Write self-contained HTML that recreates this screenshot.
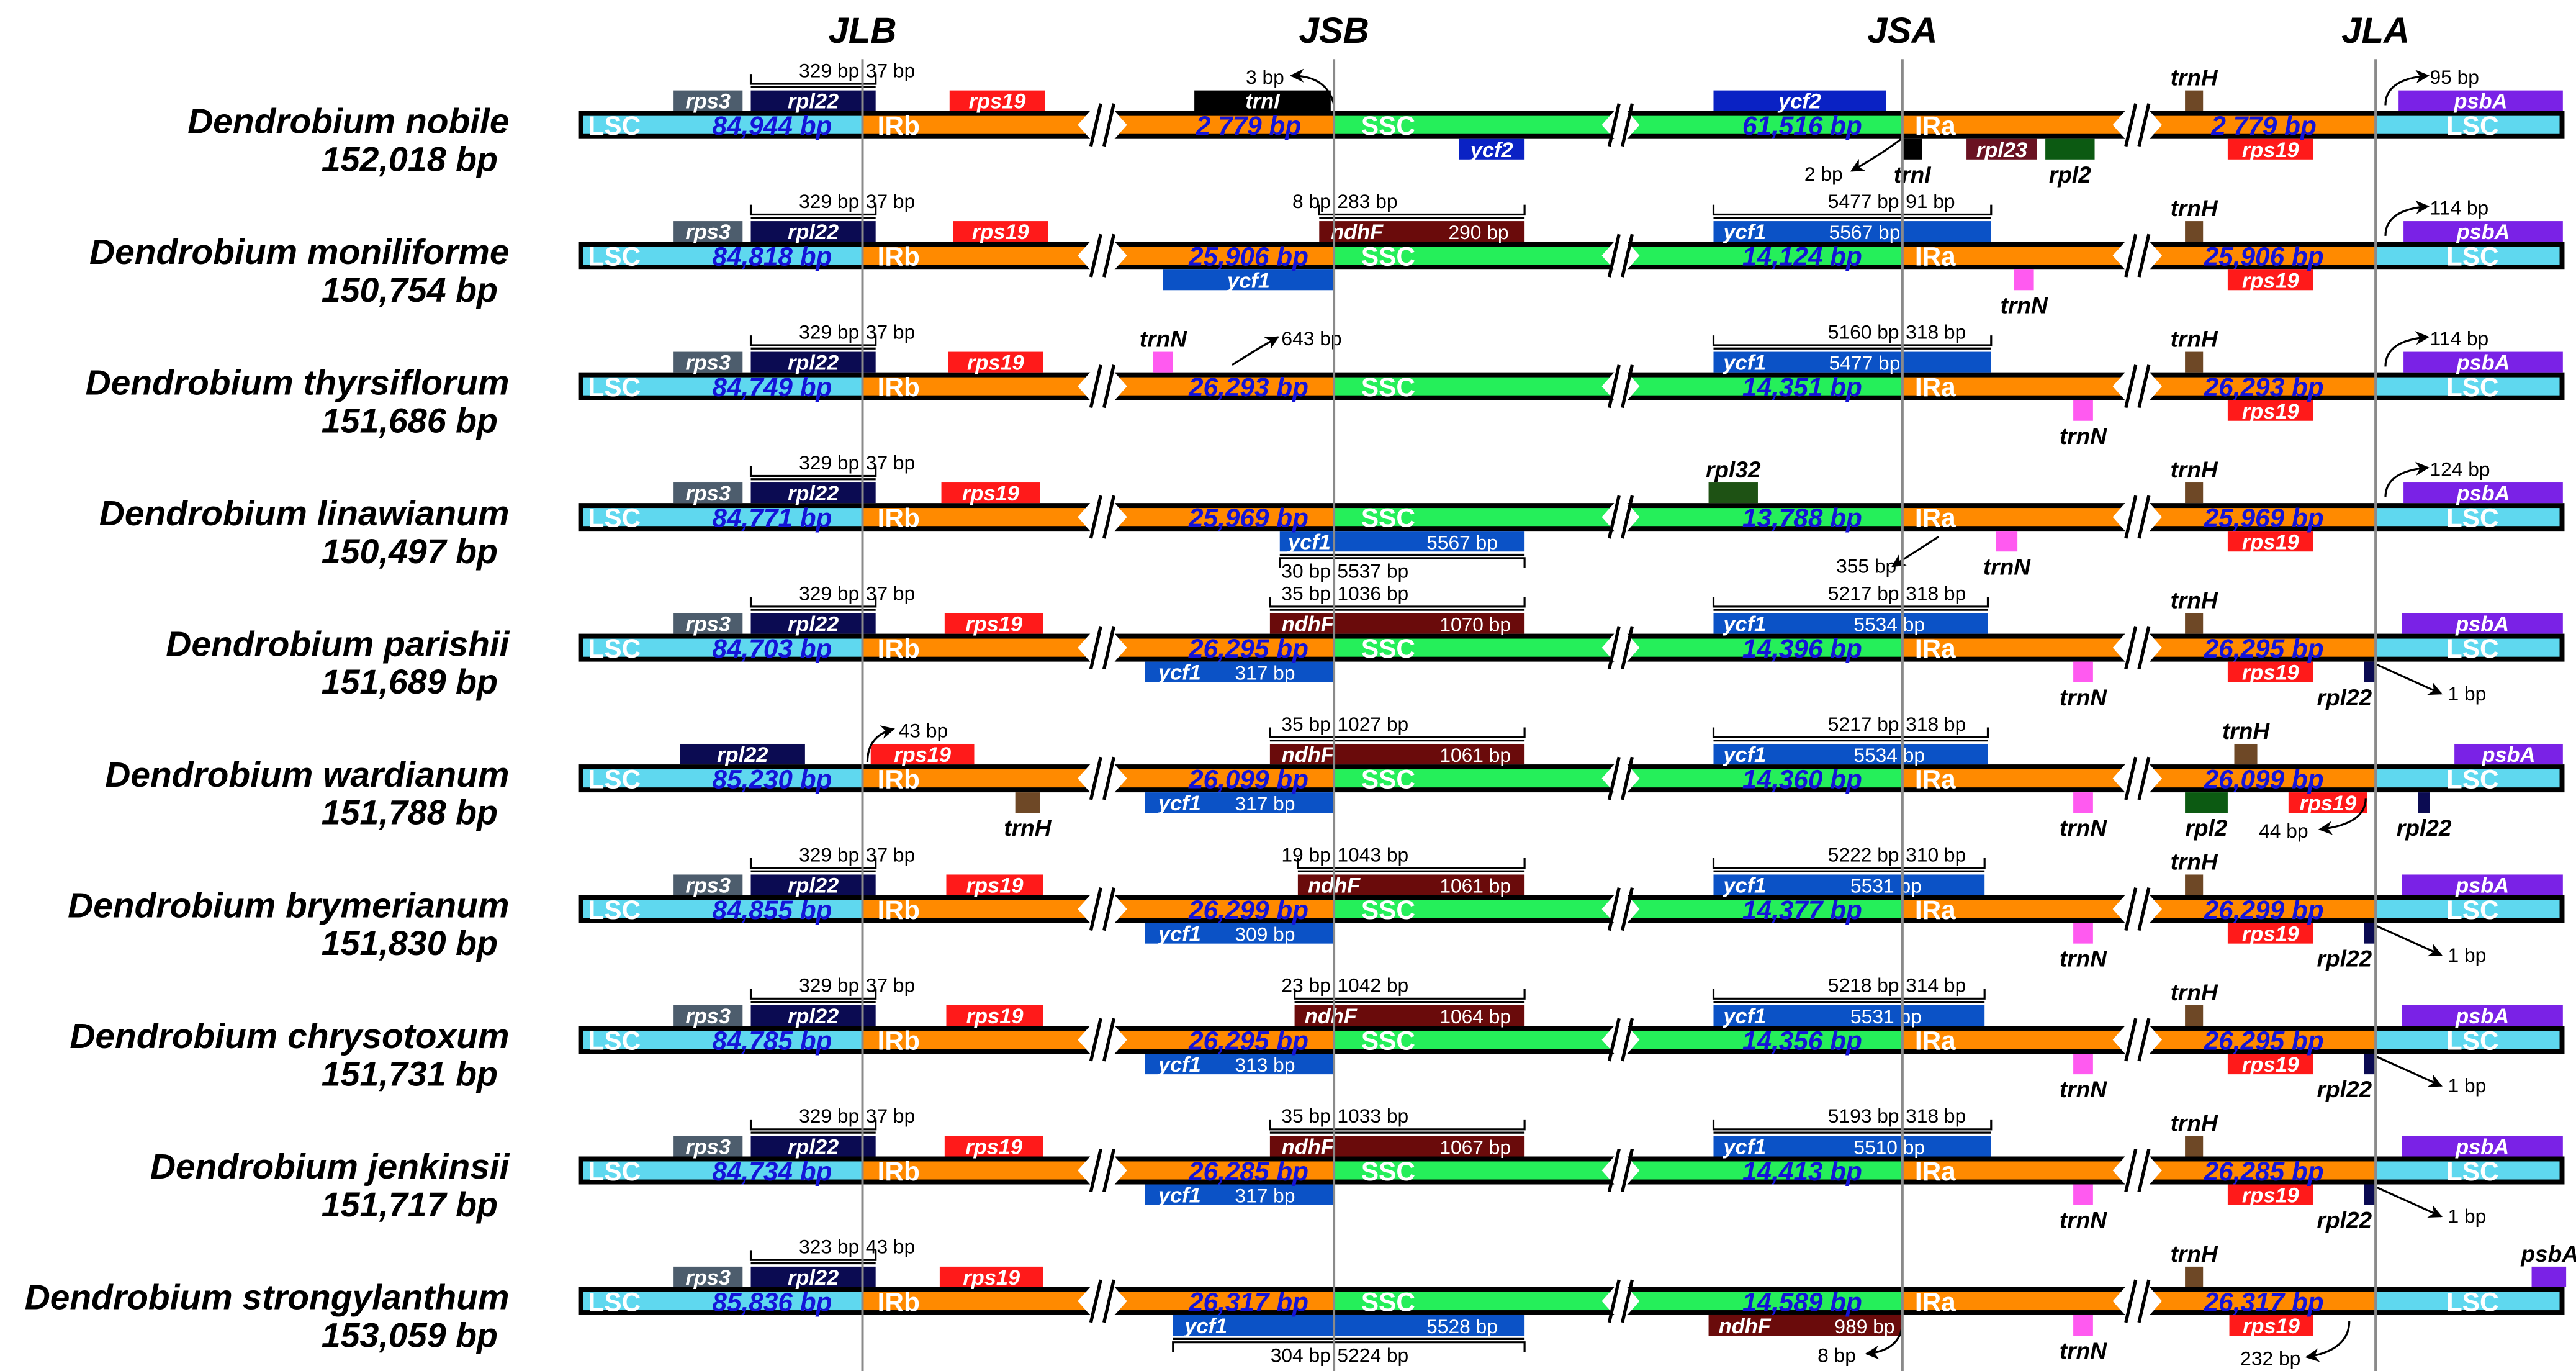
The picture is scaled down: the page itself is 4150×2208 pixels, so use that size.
<!DOCTYPE html>
<html><head><meta charset="utf-8"><style>
html,body{margin:0;padding:0;background:#fff;}
svg{display:block;}
text{font-family:"Liberation Sans",Arial,sans-serif;}
</style></head><body>
<svg id="fig" xmlns="http://www.w3.org/2000/svg" width="4150" height="2208" viewBox="0 0 1568 834" preserveAspectRatio="none">
<defs>
<marker id="ah" viewBox="0 0 10 10" refX="9" refY="5" markerWidth="7" markerHeight="7" orient="auto-start-reverse"><path d="M0,0 L10,5 L0,10 L3,5 z" fill="#000"/></marker>
</defs>
<g id="layer"></g>
</svg>
<script>
const NS="http://www.w3.org/2000/svg";
const species=["Dendrobium nobile","Dendrobium moniliforme","Dendrobium thyrsiflorum","Dendrobium linawianum","Dendrobium parishii","Dendrobium wardianum","Dendrobium brymerianum","Dendrobium chrysotoxum","Dendrobium jenkinsii","Dendrobium strongylanthum"];
const genomeSizes=["152,018 bp","150,754 bp","151,686 bp","150,497 bp","151,689 bp","151,788 bp","151,830 bp","151,731 bp","151,717 bp","153,059 bp"];
const lscLen=["84,944 bp","84,818 bp","84,749 bp","84,771 bp","84,703 bp","85,230 bp","84,855 bp","84,785 bp","84,734 bp","85,836 bp"];
const irLen=["2 779 bp","25,906 bp","26,293 bp","25,969 bp","26,295 bp","26,099 bp","26,299 bp","26,295 bp","26,285 bp","26,317 bp"];
const sscLen=["61,516 bp","14,124 bp","14,351 bp","13,788 bp","14,396 bp","14,360 bp","14,377 bp","14,356 bp","14,413 bp","14,589 bp"];
const junctions=["JLB","JSB","JSA","JLA"];

const Y0=76, DY=79.5;
const JX={JLB:525,JSB:812,JSA:1158,JLA:1446};
const C={rps3:"#4d5d6d",rpl22:"#0b0b52",rps19:"#ff1a1a",trnI:"#000",ycf2:"#0a22c4",ycf1:"#0b52c6",ndhF:"#6a0b0b",rpl23:"#6a1222",rpl2:"#0c5a12",trnH:"#6e4826",psbA:"#7a22e6",trnN:"#ff5af0",rpl32:"#1e5214"};
const L=document.getElementById('layer');
function mk(tag,attrs,parent){const e=document.createElementNS(NS,tag);for(const k in attrs)e.setAttribute(k,attrs[k]);(parent||L).appendChild(e);return e;}
function txt(s,x,y,size,fill,anchor,style,parent){const t=mk('text',{x:x,y:y,'font-size':size,fill:fill,'text-anchor':anchor||'middle','font-weight':style.indexOf('b')>=0?'bold':'normal','font-style':style.indexOf('i')>=0?'italic':'normal'},parent);t.textContent=s;return t;}

function std(v){return [
 {g:'rps3',a:410,b:452,up:1,t:'rps3'},
 {g:'rpl22',a:457,b:533,up:1,t:'rpl22'},
 {g:'rps19',a:v[0],b:v[1],up:1,t:'rps19'}];}
function tailH(){return [{g:'trnH',a:1330,b:1341,up:1,lab:'trnH'},{g:'rps19',a:1356,b:1408,up:0,t:'rps19'}];}
const rows=[
 {genes:[...std([578,636]),{g:'trnI',a:727,b:810,up:1,t:'trnI'},{g:'ycf2',a:888,b:928,up:0,t:'ycf2'},{g:'ycf2',a:1043,b:1148,up:1,t:'ycf2'},{g:'trnI',a:1158,b:1170,up:0,lab:'trnI'},{g:'rpl23',a:1197,b:1240,up:0,t:'rpl23'},{g:'rpl2',a:1245,b:1275,up:0,lab:'rpl2'},...tailH(),{g:'psbA',a:1460,b:1560,up:1,t:'psbA'}],
  br:[{a:457,m:525,b:533,up:1,l1:'329 bp',l2:'37 bp'}],
  ar:[{p:[812,-12,808,-30,786,-30],l:'3 bp',lx:770,ly:-25,an:'middle'},{p:[1158,8,1145,18,1127,28],l:'2 bp',lx:1110,ly:34,an:'middle'},{p:[1452,-12,1452,-28,1478,-30],l:'95 bp',lx:1479,ly:-25,an:'start'}]},
 {genes:[...std([580,638]),{g:'ndhF',a:803,b:928,up:1,t:'ndhF',tx:826,t2:'290 bp',t2x:900},{g:'ycf1',a:708,b:812,up:0,t:'ycf1'},{g:'ycf1',a:1043,b:1212,up:1,t:'ycf1',tx:1062,t2:'5567 bp',t2x:1135},{g:'trnN',a:1226,b:1238,up:0,lab:'trnN'},...tailH(),{g:'psbA',a:1463,b:1560,up:1,t:'psbA'}],
  br:[{a:457,m:525,b:533,up:1,l1:'329 bp',l2:'37 bp'},{a:803,m:812,b:928,up:1,l1:'8 bp',l2:'283 bp'},{a:1043,m:1158,b:1212,up:1,l1:'5477 bp',l2:'91 bp'}],
  ar:[{p:[1452,-12,1452,-28,1478,-30],l:'114 bp',lx:1479,ly:-25,an:'start'}]},
 {genes:[...std([577,635]),{g:'trnN',a:702,b:714,up:1,lab:'trnN'},{g:'ycf1',a:1043,b:1212,up:1,t:'ycf1',tx:1062,t2:'5477 bp',t2x:1135},{g:'trnN',a:1262,b:1274,up:0,lab:'trnN'},...tailH(),{g:'psbA',a:1463,b:1560,up:1,t:'psbA'}],
  br:[{a:457,m:525,b:533,up:1,l1:'329 bp',l2:'37 bp'},{a:1043,m:1158,b:1212,up:1,l1:'5160 bp',l2:'318 bp'}],
  ar:[{p:[750,-13,764,-22,778,-30],l:'643 bp',lx:780,ly:-25,an:'start'},{p:[1452,-12,1452,-28,1478,-30],l:'114 bp',lx:1479,ly:-25,an:'start'}]},
 {genes:[...std([573,633]),{g:'ycf1',a:779,b:928,up:0,t:'ycf1',tx:797,t2:'5567 bp',t2x:890},{g:'rpl32',a:1040,b:1070,up:1,lab:'rpl32'},{g:'trnN',a:1215,b:1228,up:0,lab:'trnN'},...tailH(),{g:'psbA',a:1463,b:1560,up:1,t:'psbA'}],
  br:[{a:457,m:525,b:533,up:1,l1:'329 bp',l2:'37 bp'},{a:779,m:812,b:928,up:0,l1:'30 bp',l2:'5537 bp'}],
  ar:[{p:[1180,12,1166,21,1152,30],l:'355 bp',lx:1136,ly:34,an:'middle'},{p:[1452,-12,1452,-28,1478,-30],l:'124 bp',lx:1479,ly:-25,an:'start'}]},
 {genes:[...std([575,635]),{g:'ndhF',a:773,b:928,up:1,t:'ndhF',tx:796,t2:'1070 bp',t2x:898},{g:'ycf1',a:697,b:812,up:0,t:'ycf1',tx:718,t2:'317 bp',t2x:770},{g:'ycf1',a:1043,b:1210,up:1,t:'ycf1',tx:1062,t2:'5534 bp',t2x:1150},{g:'trnN',a:1262,b:1274,up:0,lab:'trnN'},...tailH(),{g:'rpl22',a:1439,b:1446,up:0,lab:'rpl22',lx:1427},{g:'psbA',a:1462,b:1560,up:1,t:'psbA'}],
  br:[{a:457,m:525,b:533,up:1,l1:'329 bp',l2:'37 bp'},{a:773,m:812,b:928,up:1,l1:'35 bp',l2:'1036 bp'},{a:1043,m:1158,b:1210,up:1,l1:'5217 bp',l2:'318 bp'}],
  ar:[{p:[1446,10,1466,19,1486,28],l:'1 bp',lx:1490,ly:32,an:'start'}]},
 {genes:[{g:'rpl22',a:414,b:490,up:1,t:'rpl22'},{g:'rps19',a:530,b:593,up:1,t:'rps19'},{g:'trnH',a:618,b:633,up:0,lab:'trnH'},{g:'ndhF',a:773,b:928,up:1,t:'ndhF',tx:796,t2:'1061 bp',t2x:898},{g:'ycf1',a:697,b:812,up:0,t:'ycf1',tx:718,t2:'317 bp',t2x:770},{g:'ycf1',a:1043,b:1210,up:1,t:'ycf1',tx:1062,t2:'5534 bp',t2x:1150},{g:'trnN',a:1262,b:1274,up:0,lab:'trnN'},{g:'trnH',a:1360,b:1374,up:1,lab:'trnH'},{g:'rpl2',a:1330,b:1356,up:0,lab:'rpl2'},{g:'rps19',a:1393,b:1441,up:0,t:'rps19'},{g:'rpl22',a:1472,b:1479,up:0,lab:'rpl22'},{g:'psbA',a:1494,b:1560,up:1,t:'psbA'}],
  br:[{a:773,m:812,b:928,up:1,l1:'35 bp',l2:'1027 bp'},{a:1043,m:1158,b:1210,up:1,l1:'5217 bp',l2:'318 bp'}],
  ar:[{p:[528,-10,528,-26,544,-30],l:'43 bp',lx:547,ly:-25,an:'start'},{p:[1440,12,1440,28,1412,31],l:'44 bp',lx:1390,ly:36,an:'middle'}]},
 {genes:[...std([576,635]),{g:'ndhF',a:790,b:928,up:1,t:'ndhF',tx:812,t2:'1061 bp',t2x:898},{g:'ycf1',a:697,b:812,up:0,t:'ycf1',tx:718,t2:'309 bp',t2x:770},{g:'ycf1',a:1043,b:1208,up:1,t:'ycf1',tx:1062,t2:'5531 bp',t2x:1148},{g:'trnN',a:1262,b:1274,up:0,lab:'trnN'},...tailH(),{g:'rpl22',a:1439,b:1446,up:0,lab:'rpl22',lx:1427},{g:'psbA',a:1462,b:1560,up:1,t:'psbA'}],
  br:[{a:457,m:525,b:533,up:1,l1:'329 bp',l2:'37 bp'},{a:790,m:812,b:928,up:1,l1:'19 bp',l2:'1043 bp'},{a:1043,m:1158,b:1208,up:1,l1:'5222 bp',l2:'310 bp'}],
  ar:[{p:[1446,10,1466,19,1486,28],l:'1 bp',lx:1490,ly:32,an:'start'}]},
 {genes:[...std([576,635]),{g:'ndhF',a:788,b:928,up:1,t:'ndhF',tx:810,t2:'1064 bp',t2x:898},{g:'ycf1',a:697,b:812,up:0,t:'ycf1',tx:718,t2:'313 bp',t2x:770},{g:'ycf1',a:1043,b:1208,up:1,t:'ycf1',tx:1062,t2:'5531 bp',t2x:1148},{g:'trnN',a:1262,b:1274,up:0,lab:'trnN'},...tailH(),{g:'rpl22',a:1439,b:1446,up:0,lab:'rpl22',lx:1427},{g:'psbA',a:1462,b:1560,up:1,t:'psbA'}],
  br:[{a:457,m:525,b:533,up:1,l1:'329 bp',l2:'37 bp'},{a:788,m:812,b:928,up:1,l1:'23 bp',l2:'1042 bp'},{a:1043,m:1158,b:1208,up:1,l1:'5218 bp',l2:'314 bp'}],
  ar:[{p:[1446,10,1466,19,1486,28],l:'1 bp',lx:1490,ly:32,an:'start'}]},
 {genes:[...std([575,635]),{g:'ndhF',a:773,b:928,up:1,t:'ndhF',tx:796,t2:'1067 bp',t2x:898},{g:'ycf1',a:697,b:812,up:0,t:'ycf1',tx:718,t2:'317 bp',t2x:770},{g:'ycf1',a:1043,b:1212,up:1,t:'ycf1',tx:1062,t2:'5510 bp',t2x:1150},{g:'trnN',a:1262,b:1274,up:0,lab:'trnN'},...tailH(),{g:'rpl22',a:1439,b:1446,up:0,lab:'rpl22',lx:1427},{g:'psbA',a:1462,b:1560,up:1,t:'psbA'}],
  br:[{a:457,m:525,b:533,up:1,l1:'329 bp',l2:'37 bp'},{a:773,m:812,b:928,up:1,l1:'35 bp',l2:'1033 bp'},{a:1043,m:1158,b:1212,up:1,l1:'5193 bp',l2:'318 bp'}],
  ar:[{p:[1446,10,1466,19,1486,28],l:'1 bp',lx:1490,ly:32,an:'start'}]},
 {genes:[...std([572,635]),{g:'ycf1',a:714,b:928,up:0,t:'ycf1',tx:734,t2:'5528 bp',t2x:890},{g:'ndhF',a:1040,b:1158,up:0,t:'ndhF',tx:1062,t2:'989 bp',t2x:1135},{g:'trnN',a:1262,b:1274,up:0,lab:'trnN'},{g:'trnH',a:1330,b:1341,up:1,lab:'trnH'},{g:'rps19',a:1357,b:1408,up:0,t:'rps19'},{g:'psbA',a:1541,b:1562,up:1,lab:'psbA',lx:1552}],
  br:[{a:457,m:525,b:533,up:1,l1:'323 bp',l2:'43 bp'},{a:714,m:812,b:928,up:0,l1:'304 bp',l2:'5224 bp'}],
  ar:[{p:[1158,12,1158,30,1136,32],l:'8 bp',lx:1118,ly:37,an:'middle'},{p:[1430,12,1430,30,1404,34],l:'232 bp',lx:1382,ly:39,an:'middle'}]}
];

junctions.forEach(j=>{
  const t=txt(j,JX[j],26,22,'#000','middle','bi');
  
  
});

function brk(x0,x1,y,g){
  const p=mk('polygon',{points:`${x0},${y} ${x0+8},${y-9} ${x1-8},${y-9} ${x1},${y} ${x1-8},${y+9} ${x0+8},${y+9}`,fill:'#fff'},g);
  
  
  const cx=(x0+x1)/2;
  [-4,4].forEach(d=>{const l=mk('line',{x1:cx+d-3,y1:y+13,x2:cx+d+3,y2:y-13,stroke:'#000','stroke-width':2},g);
    
    });
}

rows.forEach((r,i)=>{
  const y=Y0+i*DY;
  const g=mk('g',{});
  
  
  const n=txt(species[i],310,y+5,21.5,'#000','end','bi',g);
  
  
  const s=txt(genomeSizes[i],303,y+28,21,'#000','end','bi',g);
  
  
  const bar=mk('rect',{x:352,y:y-8.5,width:1209,height:17,fill:'#000'},g);
  
  
  const segs=[[355,525,'#5fd8ef','lsc-left'],[525,812,'#ff8a00','irb'],[812,1158,'#25ef5a','ssc'],[1158,1446,'#ff8a00','ira'],[1446,1558,'#5fd8ef','lsc-right']];
  segs.forEach(sg=>{const rr=mk('rect',{x:sg[0],y:y-5.5,width:sg[1]-sg[0],height:11,fill:sg[2]},g);
    
    });
  brk(656,686,y,g); brk(975,998,y,g); brk(1286,1316,y,g);
  r.genes.forEach(ge=>{
    const y1=ge.up? y-21 : y+8.5;
    const rc=mk('rect',{x:ge.a,y:y1,width:ge.b-ge.a,height:12.5,fill:C[ge.g]},g);
    
    
    if(ge.t){
      const tx=ge.tx!==undefined?ge.tx:(ge.a+ge.b)/2;
      const t=txt(ge.t,tx,y1+11,13,'#fff','middle','bi',g);
      
      
      if(ge.t2){const t2=txt(ge.t2,ge.t2x,y1+11,12,'#fff','middle','',g);
        
        }
    }
    if(ge.lab){
      const lx=ge.lx!==undefined?ge.lx:(ge.a+ge.b)/2;
      const t=txt(ge.lab,lx,ge.up?y-24:y+35,14,'#000','middle','bi',g);
      
      
    }
  });
  [['LSC',374,'#fff'],['IRb',547,'#fff'],['SSC',845,'#fff'],['IRa',1178,'#fff'],['LSC',1505,'#fff']].forEach(sl=>{
    const t=txt(sl[0],sl[1],y+6,16,sl[2],'middle','b',g);
    
    });
  [[lscLen[i],470],[irLen[i],760],[sscLen[i],1097],[irLen[i],1378]].forEach(bl=>{
    const t=txt(bl[0],bl[1],y+6,16,'#1414d8','middle','bi',g);
    
    });
  r.br.forEach(b=>{
    const yb=b.up? y-25 : y+25;
    const tick=b.up? -6:6;
    const d=`M${b.a},${yb+tick} L${b.a},${yb} L${b.b},${yb} L${b.b},${yb+tick} M${b.a},${yb-(b.up?-2:2)} L${b.b},${yb-(b.up?-2:2)} M${b.m},${yb+tick} L${b.m},${yb+(b.up?4:-4)}`;
    const p=mk('path',{d:d,fill:'none',stroke:'#000','stroke-width':1.2},g);
    
    
    const ly=b.up? y-29 : y+37;
    const t1=txt(b.l1,b.m-2,ly,12,'#000','end','',g);
    
    
    const t2=txt(b.l2,b.m+2,ly,12,'#000','start','',g);
    
    
  });
  r.ar.forEach(a=>{
    const p=a.p;
    const path=mk('path',{d:`M${p[0]},${y+p[1]} Q${p[2]},${y+p[3]} ${p[4]},${y+p[5]}`,fill:'none',stroke:'#000','stroke-width':1.2,'marker-end':'url(#ah)'},g);
    
    
    const t=txt(a.l,a.lx,y+a.ly,12,'#000',a.an,'',g);
    
    
  });
});
junctions.forEach(j=>{
  const l=mk('line',{x1:JX[j],y1:36,x2:JX[j],y2:834,stroke:'#8a8a8a','stroke-width':1.5});
  
  
});
</script>
</body></html>
